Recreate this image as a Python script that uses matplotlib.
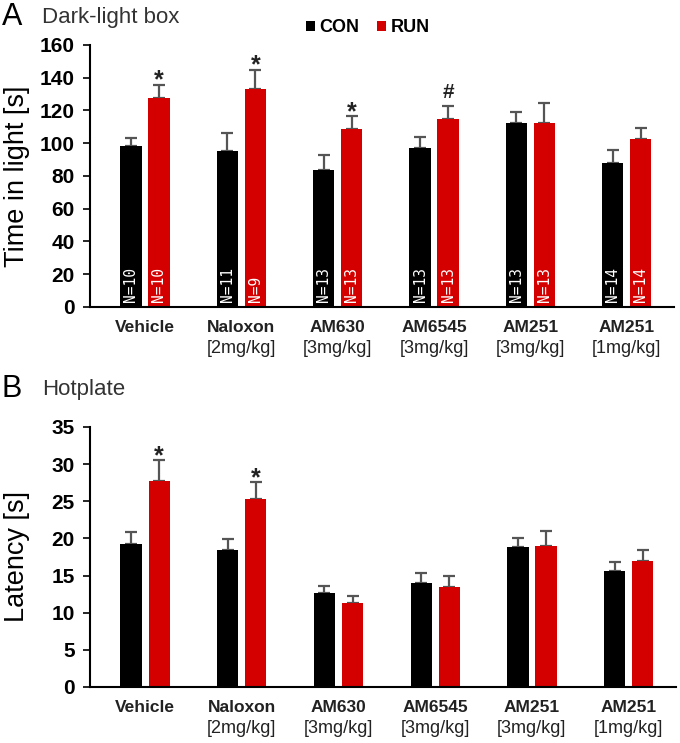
import numpy as np
import matplotlib
matplotlib.use("Agg")
import matplotlib.pyplot as plt

plt.rcParams["font.family"] = ["Liberation Sans", "DejaVu Sans"]

groups = ["Vehicle", "Naloxon", "AM630", "AM6545", "AM251", "AM251"]
doses = ["", "[2mg/kg]", "[3mg/kg]", "[3mg/kg]", "[3mg/kg]", "[1mg/kg]"]

# Dark-light box: time in light [s]
light_con = [98.5, 95.5, 83.5, 97.0, 112.5, 88.0]
light_con_err = [5.0, 11.0, 9.5, 7.0, 6.8, 7.8]
light_run = [127.8, 133.0, 109.0, 115.0, 112.5, 102.5]
light_run_err = [8.0, 12.0, 7.5, 7.8, 12.2, 7.0]
n_con = ["N=10", "N=11", "N=13", "N=13", "N=13", "N=14"]
n_run = ["N=10", "N=9", "N=13", "N=13", "N=13", "N=14"]
light_marks = ["*", "*", "*", "#", "", ""]

# Hotplate: latency [s]
hot_con = [19.3, 18.4, 12.7, 14.0, 18.8, 15.6]
hot_con_err = [1.5, 1.5, 0.9, 1.4, 1.2, 1.2]
hot_run = [27.7, 25.3, 11.3, 13.4, 19.0, 17.0]
hot_run_err = [2.8, 2.3, 0.9, 1.5, 2.0, 1.5]
hot_marks = ["*", "*", "", "", "", ""]

BLACK = "#000000"
RED = "#d40000"
ERR = "#555555"

fig = plt.figure(figsize=(6.8, 7.43), dpi=100)
x = np.arange(len(groups))
w = 0.22
off = 0.145


def draw_panel(ax, con, con_err, run, run_err, marks, ymax, step, ylabel, ppu):
    # ppu: pixels per data unit, used to place the significance marks
    b1 = ax.bar(x - off, con, w, color=BLACK, zorder=2, label="CON")
    b2 = ax.bar(x + off, run, w, color=RED, zorder=2, label="RUN")
    ax.errorbar(x - off, con, yerr=[np.zeros(len(con)), con_err], fmt="none",
                ecolor=ERR, elinewidth=1.6, capsize=4, capthick=1.6, zorder=1)
    ax.errorbar(x + off, run, yerr=[np.zeros(len(run)), run_err], fmt="none",
                ecolor=ERR, elinewidth=1.6, capsize=4, capthick=1.6, zorder=1)
    for i, m in enumerate(marks):
        top = run[i] + run_err[i]
        if m == "*":
            ax.text(x[i] + off, top - 8.0 / ppu, m, ha="center", va="bottom",
                    fontsize=18, fontweight="bold", color="#222222")
        elif m == "#":
            ax.text(x[i] + off, top + 2.5, m, ha="center", va="bottom",
                    fontsize=15, fontweight="bold", color="#222222")
    ax.set_xlim(-0.57, 5.49)
    ax.set_ylim(0, ymax)
    ax.set_yticks(np.arange(0, ymax + 0.1, step))
    ax.tick_params(axis="y", direction="out", length=5, width=1.2, pad=6,
                   labelsize=15)
    for lab in ax.get_yticklabels():
        lab.set_fontweight("bold")
    ax.set_xticks([])
    ax.spines["top"].set_visible(False)
    ax.spines["right"].set_visible(False)
    ax.spines["left"].set_linewidth(1.5)
    ax.spines["bottom"].set_linewidth(1.5)
    ax.set_ylabel(ylabel, fontsize=19.5)
    ax.yaxis.set_label_coords(-0.103, 0.5)
    for i in range(len(groups)):
        ax.text(x[i], -0.077, groups[i], transform=ax.get_xaxis_transform(),
                ha="center", va="center", fontsize=12.5, fontweight="bold",
                color="#222222")
        if doses[i]:
            ax.text(x[i], -0.158, doses[i], transform=ax.get_xaxis_transform(),
                    ha="center", va="center", fontsize=13, color="#222222")
    return b1, b2


axA = fig.add_axes([90 / 680, 1 - 307 / 743, 584 / 680, 262 / 743])
b1, b2 = draw_panel(axA, light_con, light_con_err, light_run, light_run_err,
                    light_marks, 160, 20, "Time in light [s]", 262 / 160)
for i in range(len(groups)):
    axA.text(x[i] - off, 3, n_con[i], rotation=90, ha="center", va="bottom",
             color="white", fontsize=10.5, family="DejaVu Sans Mono")
    axA.text(x[i] + off, 3, n_run[i], rotation=90, ha="center", va="bottom",
             color="white", fontsize=10.5, family="DejaVu Sans Mono")

axB = fig.add_axes([90 / 680, 1 - 687 / 743, 586 / 680, 260 / 743])
draw_panel(axB, hot_con, hot_con_err, hot_run, hot_run_err, hot_marks,
           35, 5, "Latency [s]", 260 / 35)

fig.text(2 / 680, 1 - 17 / 743, "A", fontsize=22, va="center", ha="left")
fig.text(42 / 680, 1 - 17 / 743, "Dark-light box", fontsize=16, va="center",
         ha="left", color="#333333")
fig.text(2 / 680, 1 - 389 / 743, "B", fontsize=22, va="center", ha="left")
fig.text(42 / 680, 1 - 389 / 743, "Hotplate", fontsize=16, va="center",
         ha="left", color="#333333")

fig.legend([b1, b2], ["CON", "RUN"], loc="center",
           bbox_to_anchor=(368 / 680, 1 - 28 / 743), ncol=2, frameon=False,
           handlelength=0.5, handleheight=0.5, handletextpad=0.25,
           columnspacing=1.0, prop={"weight": "bold", "size": 13})

fig.savefig("out.png", dpi=100)
